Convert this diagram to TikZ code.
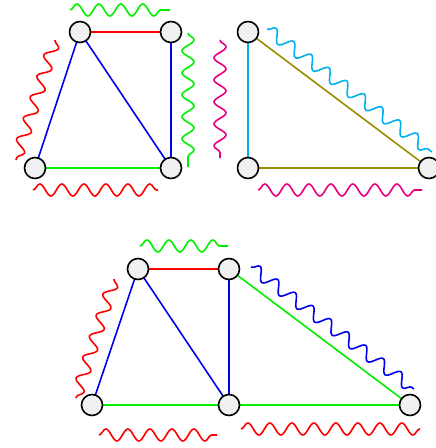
\documentclass[tikz,border=0pt]{standalone}
\usetikzlibrary{decorations.pathmorphing}
\definecolor{cred}{RGB}{255,0,0}
\definecolor{cblue}{RGB}{0,0,240}
\definecolor{cgreen}{RGB}{0,240,0}
\definecolor{ccyan}{RGB}{0,176,240}
\definecolor{colive}{RGB}{155,140,0}
\definecolor{cmag}{RGB}{230,0,126}
\definecolor{nfill}{RGB}{240,240,240}
\begin{document}
\begin{tikzpicture}[x=1pt,y=-1pt,
  vert/.style={circle,draw=black,fill=nfill,line width=1.6pt,minimum size=21pt,inner sep=0pt},
  edge/.style={line width=1.6pt},
  wave/.style={line width=1.6pt,decorate,decoration={snake,segment length=22pt,amplitude=6pt}}]
\useasboundingbox (0,0) rectangle (436,448);
% top-left graph
\coordinate (A) at (80,32);
\coordinate (B) at (171,32);
\coordinate (C) at (35,168);
\coordinate (D) at (171,168);
\draw[edge,cred] (A) -- (B);
\draw[edge,cblue] (A) -- (C);
\draw[edge,cblue] (A) -- (D);
\draw[edge,cblue] (B) -- (D);
\draw[edge,cgreen] (C) -- (D);
\node[vert] (nA) at (A) {};
\node[vert] (nB) at (B) {};
\node[vert] (nC) at (C) {};
\node[vert] (nD) at (D) {};
\coordinate (w1a) at (70,10); \coordinate (w1b) at (170,10);
\draw[wave,cgreen] (w1a) -- (w1b);
\coordinate (w2a) at (55,40); \coordinate (w2b) at (16,160);
\draw[wave,cred] (w2a) -- (w2b);
\coordinate (w3a) at (188,33); \coordinate (w3b) at (188,167);
\draw[wave,cgreen] (w3a) -- (w3b);
\coordinate (w4a) at (33,190); \coordinate (w4b) at (158,190);
\draw[wave,cred] (w4a) -- (w4b);
% top-right graph
\coordinate (E) at (248,32);
\coordinate (F) at (248,168);
\coordinate (G) at (429,168);
\draw[edge,ccyan] (E) -- (F);
\draw[edge,colive] (E) -- (G);
\draw[edge,colive] (F) -- (G);
\node[vert] (nE) at (E) {};
\node[vert] (nF) at (F) {};
\node[vert] (nG) at (G) {};
\coordinate (w5a) at (220,40); \coordinate (w5b) at (220,158);
\draw[wave,cmag] (w5a) -- (w5b);
\coordinate (w6a) at (267,29); \coordinate (w6b) at (432,152);
\draw[wave,ccyan] (w6a) -- (w6b);
\coordinate (w7a) at (258,190); \coordinate (w7b) at (422,190);
\draw[wave,cmag] (w7a) -- (w7b);
% bottom graph
\coordinate (H) at (138,269);
\coordinate (I) at (229,269);
\coordinate (J) at (92,405);
\coordinate (K) at (229,405);
\coordinate (L) at (410,405);
\draw[edge,cred] (H) -- (I);
\draw[edge,cblue] (H) -- (J);
\draw[edge,cblue] (H) -- (K);
\draw[edge,cblue] (I) -- (K);
\draw[edge,cgreen] (J) -- (K);
\draw[edge,cgreen] (K) -- (L);
\draw[edge,cgreen] (I) -- (L);
\node[vert] (nH) at (H) {};
\node[vert] (nI) at (I) {};
\node[vert] (nJ) at (J) {};
\node[vert] (nK) at (K) {};
\node[vert] (nL) at (L) {};
\coordinate (w8a) at (140,246); \coordinate (w8b) at (228,246);
\draw[wave,cgreen] (w8a) -- (w8b);
\coordinate (w9a) at (114,279); \coordinate (w9b) at (76,398);
\draw[wave,cred] (w9a) -- (w9b);
\coordinate (w10a) at (251,267); \coordinate (w10b) at (414,389);
\draw[wave,cblue] (w10a) -- (w10b);
\coordinate (w11a) at (99,435); \coordinate (w11b) at (217,435);
\draw[wave,cred] (w11a) -- (w11b);
\coordinate (w12a) at (241,429); \coordinate (w12b) at (420,429);
\draw[wave,cred] (w12a) -- (w12b);
\end{tikzpicture}
\end{document}
